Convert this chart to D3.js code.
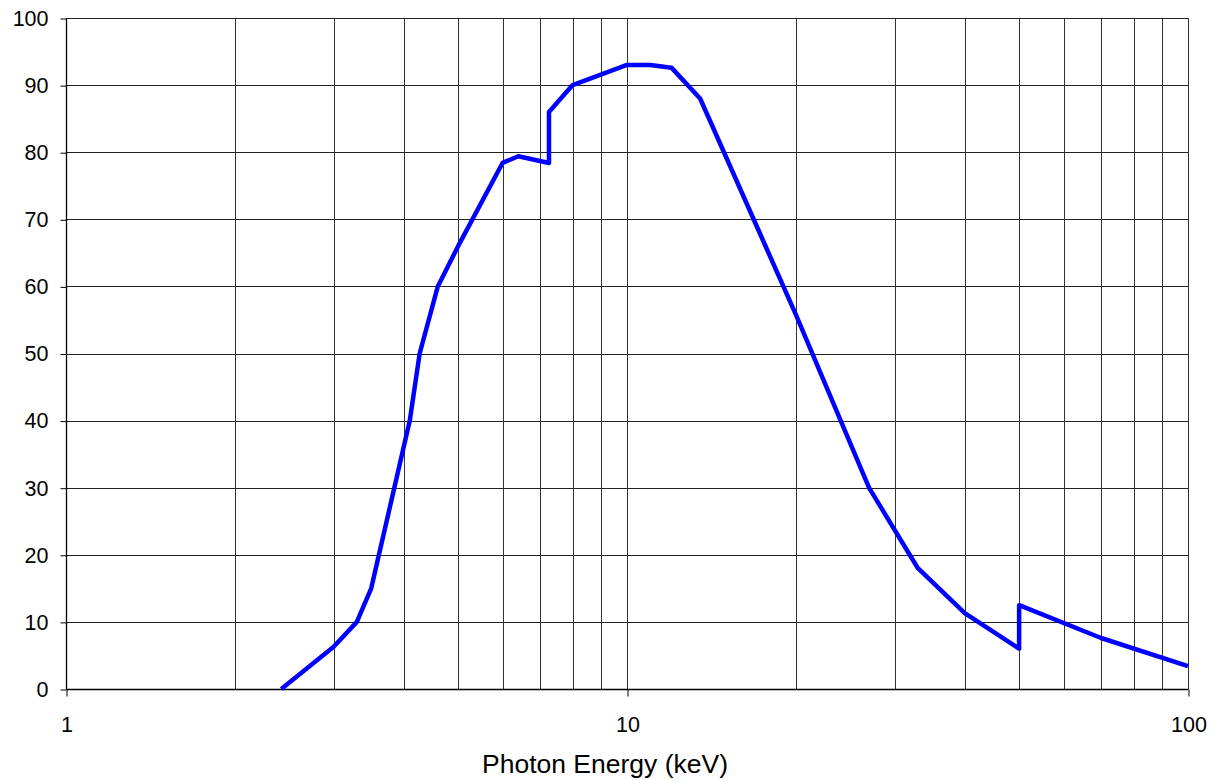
<!DOCTYPE html>
<html>
<head>
<meta charset="utf-8">
<script src="https://cdnjs.cloudflare.com/ajax/libs/d3/7.8.5/d3.min.js"></script>
<style>
  body { margin: 0; background: #fff; }
  text { font-family: "Liberation Sans", Arial, sans-serif; }
</style>
</head>
<body>
<svg width="1218" height="780"></svg>
<script>
	// photon energy (keV) and value
	const energy = [2.42, 3, 3.3, 3.5, 4.1, 4.27, 4.6, 5, 6, 6.4, 7.26, 7.26, 8, 10, 11, 12, 13.5, 20, 27, 33, 40, 50, 50, 70, 100];
	const values = [0, 6.3, 10, 15, 40, 50, 60, 66, 78.4, 79.4, 78.4, 86, 90, 93, 93, 92.6, 88, 55.8, 30, 18, 11.3, 6, 12.5, 7.6, 3.4];

	const yTicks = [0, 10, 20, 30, 40, 50, 60, 70, 80, 90, 100];
	const xMajor = [1, 10, 100];
	const xMinor = [2, 3, 4, 5, 6, 7, 8, 9, 20, 30, 40, 50, 60, 70, 80, 90];

	const svg = d3.select('svg');

	const mLeft = 66, mRight = 1188, mTop = 18, mBottom = 689;

	const x = d3.scaleLog().domain([1, 100]).range([mLeft, mRight]);
	const y = d3.scaleLinear().domain([0, 100]).range([mBottom, mTop]);

	const g = svg.append('g');

	// grid
	g.append('g')
		.selectAll('line')
		.data(yTicks.slice(1))
		.join('line')
			.attr('x1', mLeft).attr('x2', mRight)
			.attr('y1', d => Math.round(y(d)) + 0.5)
			.attr('y2', d => Math.round(y(d)) + 0.5)
			.attr('stroke', '#222')
			.attr('stroke-width', 1);

	g.append('g')
		.selectAll('line')
		.data(xMinor.concat([10, 100]))
		.join('line')
			.attr('x1', d => Math.round(x(d)) + 0.5)
			.attr('x2', d => Math.round(x(d)) + 0.5)
			.attr('y1', mTop).attr('y2', mBottom)
			.attr('stroke', '#333')
			.attr('stroke-width', 1);

	// axes
	const yAxis = g.append('g')
		.attr('transform', `translate(${mLeft + 0.5}, 0.5)`)
		.call(d3.axisLeft(y).tickValues(yTicks).tickSize(6).tickPadding(12).tickFormat(d3.format('d')));

	const xAxis = g.append('g')
		.attr('transform', `translate(0.5, ${mBottom + 0.5})`)
		.call(d3.axisBottom(x).tickValues(xMajor).tickSize(7).tickPadding(20).tickFormat(d3.format('d')));

	[yAxis, xAxis].forEach(a => {
		a.select('.domain').attr('stroke', '#000').attr('stroke-width', 1.3);
		a.selectAll('.tick line').attr('stroke', '#000');
		a.selectAll('.tick text')
			.attr('fill', '#000')
			.style('font-family', '"Liberation Sans", Arial, sans-serif')
			.style('font-size', '21.5px');
	});
	xAxis.select('.domain').attr('d', `M${mLeft},0H${mRight}`);
	yAxis.select('.domain').attr('d', `M0,${mTop}V${mBottom}`);

	// curve
	const line = d3.line()
		.x((d, i) => x(energy[i]))
		.y(d => y(d));

	g.append('path')
		.attr('d', line(values))
		.attr('fill', 'none')
		.attr('stroke', '#0000ff')
		.attr('stroke-width', 4.5)
		.attr('stroke-linejoin', 'round');

	svg.append('text')
		.attr('x', 605)
		.attr('y', 773)
		.attr('text-anchor', 'middle')
		.style('font-size', '26.5px')
		.text('Photon Energy (keV)');
</script>
</body>
</html>
